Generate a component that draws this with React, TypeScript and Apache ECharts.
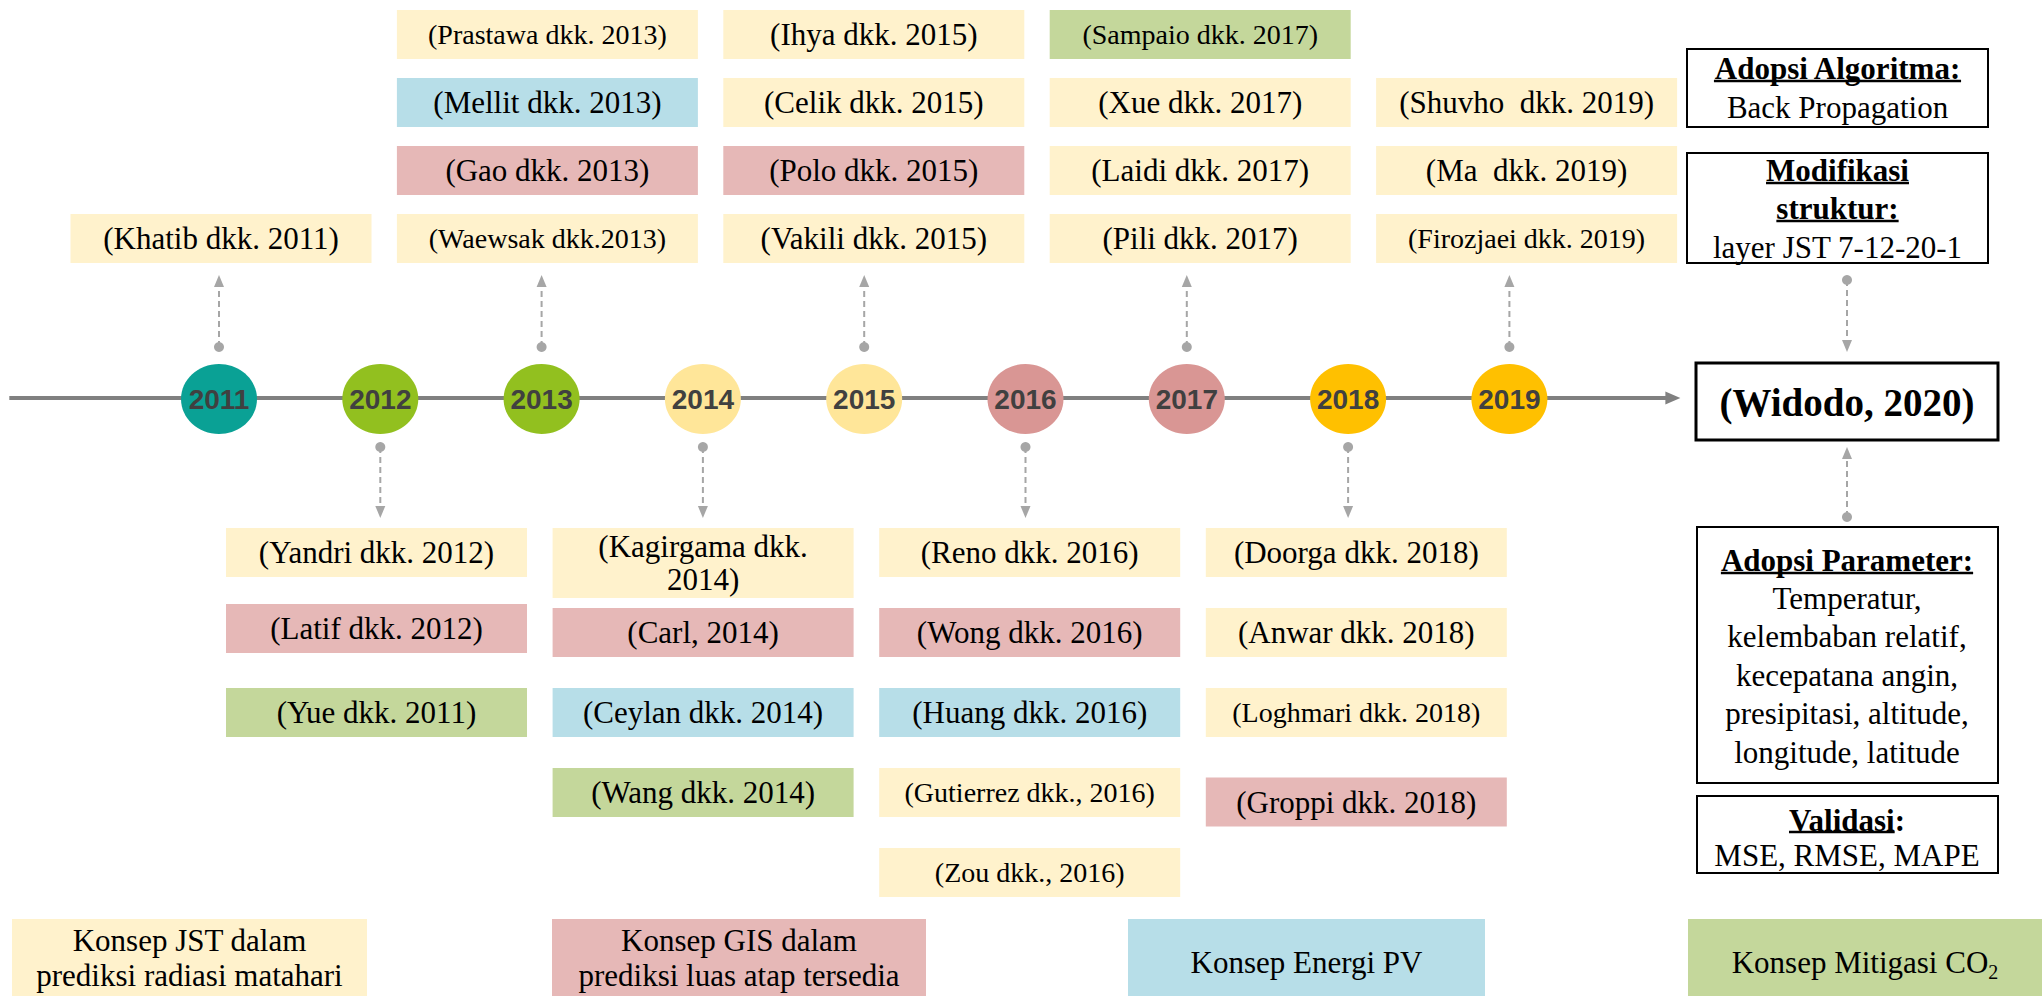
import React, { useEffect, useRef } from 'react';
import * as echarts from 'echarts';

// ---------------- DATA ----------------
const years = [2011, 2012, 2013, 2014, 2015, 2016, 2017, 2018, 2019];
const yearColors = ['#0AA195', '#92C01F', '#92C01F', '#FFE699', '#FFE699', '#D99694', '#D99694', '#FFC000', '#FFC000'];
const timelineStart = 2009.7;
const timelineEnd = 2020.06; // arrow reaches the 2020 work

const categories = ['JST', 'GIS', 'PV', 'CO2'];
const categoryColors = ['#FFF2CC', '#E6B8B7', '#B7DEE8', '#C4D79B'];
const legendLabels = [
  'Konsep JST dalam\nprediksi radiasi matahari',
  'Konsep GIS dalam\nprediksi luas atap tersedia',
  'Konsep Energi PV',
  'Konsep Mitigasi CO{sub|2}',
];

// [label, year, row counted away from the timeline, category]
const papersAbove: [string, number, number, string][] = [
  ['(Khatib dkk. 2011)', 2011, 1, 'JST'],
  ['(Waewsak dkk.2013)', 2013, 1, 'JST'],
  ['(Gao dkk. 2013)', 2013, 2, 'GIS'],
  ['(Mellit dkk. 2013)', 2013, 3, 'PV'],
  ['(Prastawa dkk. 2013)', 2013, 4, 'JST'],
  ['(Vakili dkk. 2015)', 2015, 1, 'JST'],
  ['(Polo dkk. 2015)', 2015, 2, 'GIS'],
  ['(Celik dkk. 2015)', 2015, 3, 'JST'],
  ['(Ihya dkk. 2015)', 2015, 4, 'JST'],
  ['(Pili dkk. 2017)', 2017, 1, 'JST'],
  ['(Laidi dkk. 2017)', 2017, 2, 'JST'],
  ['(Xue dkk. 2017)', 2017, 3, 'JST'],
  ['(Sampaio dkk. 2017)', 2017, 4, 'CO2'],
  ['(Firozjaei dkk. 2019)', 2019, 1, 'JST'],
  ['(Ma  dkk. 2019)', 2019, 2, 'JST'],
  ['(Shuvho  dkk. 2019)', 2019, 3, 'JST'],
];
const papersBelow: [string, number, number, string][] = [
  ['(Yandri dkk. 2012)', 2012, 1, 'JST'],
  ['(Latif dkk. 2012)', 2012, 1.95, 'GIS'],
  ['(Yue dkk. 2011)', 2012, 3, 'CO2'],
  ['(Kagirgama dkk.\n2014)', 2014, 1, 'JST'],
  ['(Carl, 2014)', 2014, 2, 'GIS'],
  ['(Ceylan dkk. 2014)', 2014, 3, 'PV'],
  ['(Wang dkk. 2014)', 2014, 4, 'CO2'],
  ['(Reno dkk. 2016)', 2016, 1, 'JST'],
  ['(Wong dkk. 2016)', 2016, 2, 'GIS'],
  ['(Huang dkk. 2016)', 2016, 3, 'PV'],
  ['(Gutierrez dkk., 2016)', 2016, 4, 'JST'],
  ['(Zou dkk., 2016)', 2016, 5, 'JST'],
  ['(Doorga dkk. 2018)', 2018, 1, 'JST'],
  ['(Anwar dkk. 2018)', 2018, 2, 'JST'],
  ['(Loghmari dkk. 2018)', 2018, 3, 'JST'],
  ['(Groppi dkk. 2018)', 2018, 4.12, 'GIS'],
];
const smallLabels = ['(Prastawa dkk. 2013)', '(Waewsak dkk.2013)', '(Sampaio dkk. 2017)', '(Firozjaei dkk. 2019)',
  '(Loghmari dkk. 2018)', '(Gutierrez dkk., 2016)', '(Zou dkk., 2016)'];

const widodoLabel = '(Widodo, 2020)';
const algoTitle = 'Adopsi Algoritma:';
const algoText = 'Back Propagation';
const structTitle = ['Modifikasi', 'struktur:'];
const structText = 'layer JST 7-12-20-1';
const paramTitle = 'Adopsi Parameter:';
const paramLines = ['Temperatur,', 'kelembaban relatif,', 'kecepatana angin,', 'presipitasi, altitude,', 'longitude, latitude'];
const validTitle = 'Validasi';
const validText = 'MSE, RMSE, MAPE';

// ---------------- STYLE / LAYOUT ----------------
const W = 2042;
const H = 996;
const SERIF = '"Liberation Serif", "Times New Roman", serif';
const SANS = '"Liberation Sans", Arial, sans-serif';
const GREY = '#A6A6A6';
const BOX_W = 301;
const BOX_H = 49;
const BOX_H2 = 70;

function axisRange(x2011: number, step: number) {
  const min = 2011 - x2011 / step;
  return { min, max: min + W / step };
}

const measure = (text: string, font: string) => {
  const ctx = document.createElement('canvas').getContext('2d')!;
  ctx.font = font;
  return ctx.measureText(text).width;
};

function textEl(text: string, x: number, y: number, size: number, bold = false, extra: any = {}) {
  return {
    type: 'text', x, y, silent: true,
    style: {
      text, fill: '#000', fontSize: size, fontFamily: SERIF, fontWeight: bold ? 'bold' : 'normal',
      align: 'center', verticalAlign: 'middle', textAlign: 'center', textVerticalAlign: 'middle', ...extra,
    },
  };
}

function underline(x1: number, x2: number, y: number) {
  return { type: 'line', silent: true, shape: { x1, y1: y, x2, y2: y }, style: { stroke: '#000', lineWidth: 2.5 } };
}

function centeredUnderline(text: string, cx: number, y: number, size: number) {
  const w = measure(text, `bold ${size}px ${SERIF}`);
  return underline(cx - w / 2, cx + w / 2, y);
}

function boxRect(x: number, y: number, w: number, h: number, lw = 2) {
  return { type: 'rect', silent: true, shape: { x, y, width: w, height: h }, style: { fill: '#fff', stroke: '#000', lineWidth: lw } };
}

function dashedConnector(cx: number, dotY: number, tipY: number) {
  const dir = tipY < dotY ? -1 : 1;
  const baseY = tipY - dir * 12;
  return [
    { type: 'line', silent: true, shape: { x1: cx, y1: dotY, x2: cx, y2: baseY }, style: { stroke: GREY, lineWidth: 2, lineDash: [6, 4] } },
    { type: 'circle', silent: true, shape: { cx, cy: dotY, r: 5 }, style: { fill: GREY } },
    { type: 'polygon', silent: true, shape: { points: [[cx, tipY], [cx - 5, baseY], [cx + 5, baseY]] }, style: { fill: GREY } },
  ];
}

function boxSeries(papers: [string, number, number, string][], axisIndex: number) {
  return {
    type: 'custom',
    coordinateSystem: 'cartesian2d',
    xAxisIndex: axisIndex,
    yAxisIndex: axisIndex,
    data: papers.map((p, i) => [p[1], p[2], i]),
    renderItem: (params: any, api: any) => {
      const p = papers[api.value(2)];
      const [cx, cy] = api.coord([api.value(0), api.value(1)]);
      const h = p[0].includes('\n') ? BOX_H2 : BOX_H;
      const top = cy - BOX_H / 2;
      const size = smallLabels.includes(p[0]) ? 28 : 31;
      return {
        type: 'group',
        children: [
          { type: 'rect', shape: { x: cx - BOX_W / 2, y: top, width: BOX_W, height: h }, style: { fill: categoryColors[categories.indexOf(p[3])] } },
          textEl(p[0], cx, top + h / 2, size, false, { lineHeight: 33 }),
        ],
      };
    },
  };
}

function buildOption() {
  const aboveYears = Array.from(new Set(papersAbove.map((p) => p[1])));
  const belowYears = Array.from(new Set(papersBelow.map((p) => p[1])));
  const connectorData = years
    .filter((y) => aboveYears.includes(y) || belowYears.includes(y))
    .map((y) => [y, aboveYears.includes(y) ? 1 : -1]);

  // right column (the 2020 study)
  const RC = 1837.5; // algorithm / structure boxes
  const RC2 = 1847; // widodo / parameter / validation boxes
  const validFont = `bold 31px ${SERIF}`;
  const validFull = measure(validTitle + ':', validFont);
  const validPart = measure(validTitle, validFont);

  const right: any[] = [
    boxRect(1687, 49, 301, 78),
    textEl(algoTitle, RC, 68, 31, true),
    centeredUnderline(algoTitle, RC, 81, 31),
    textEl(algoText, RC, 107, 31),

    boxRect(1687, 153, 301, 110),
    textEl(structTitle[0], RC, 170, 31, true),
    centeredUnderline(structTitle[0], RC, 183, 31),
    textEl(structTitle[1], RC, 208, 31, true),
    centeredUnderline(structTitle[1], RC, 221, 31),
    textEl(structText, RC, 247, 31),

    ...dashedConnector(RC2, 280, 352),

    boxRect(1696, 363, 302, 77, 3),
    textEl(widodoLabel, RC2, 402, 39, true),

    ...dashedConnector(RC2, 517, 447),

    boxRect(1697, 527, 301, 256),
    textEl(paramTitle, RC2, 560, 31, true),
    centeredUnderline(paramTitle, RC2, 573, 31),
    ...paramLines.map((t, i) => textEl(t, RC2, 598 + i * 38.5, 31)),

    boxRect(1697, 796, 301, 77),
    textEl(validTitle + ':', RC2, 820, 31, true),
    underline(RC2 - validFull / 2, RC2 - validFull / 2 + validPart, 832),
    textEl(validText, RC2, 855, 31),
  ];

  // legend of concepts at the bottom
  const legendBoxes = [
    { x: 12, w: 355 },
    { x: 552, w: 374 },
    { x: 1128, w: 357 },
    { x: 1688, w: 354 },
  ];
  const legend: any[] = [];
  legendLabels.forEach((lab, i) => {
    const b = legendBoxes[i];
    legend.push({ type: 'rect', silent: true, shape: { x: b.x, y: 919, width: b.w, height: 85 }, style: { fill: categoryColors[i] } });
    legend.push(textEl(lab, b.x + b.w / 2, lab.includes('\n') ? 958 : 962, 31, false, {
      lineHeight: 35,
      rich: { sub: { fontSize: 20, fontFamily: SERIF, verticalAlign: 'bottom', lineHeight: 40, fill: '#000' } },
    }));
  });

  return {
    animation: false,
    backgroundColor: '#fff',
    grid: [
      { left: 0, top: 0.5, width: W, height: 272 },
      { left: 0, top: 512.5, width: W, height: 400 },
      { left: 0, top: 298, width: W, height: 200 },
    ],
    xAxis: [
      { type: 'value', gridIndex: 0, show: false, ...axisRange(221, 163.2) },
      { type: 'value', gridIndex: 1, show: false, ...axisRange(213.2, 163.3) },
      { type: 'value', gridIndex: 2, show: false, ...axisRange(219, 161.3) },
    ],
    yAxis: [
      { type: 'value', gridIndex: 0, show: false, min: 0.5, max: 4.5 },
      { type: 'value', gridIndex: 1, show: false, min: 0.5, max: 5.5, inverse: true },
      { type: 'value', gridIndex: 2, show: false, min: -1, max: 1 },
    ],
    graphic: { elements: [...right, ...legend] },
    series: [
      {
        type: 'custom',
        coordinateSystem: 'cartesian2d',
        xAxisIndex: 2,
        yAxisIndex: 2,
        data: [[timelineStart, timelineEnd]],
        renderItem: (params: any, api: any) => {
          const p0 = api.coord([api.value(0), 0]);
          const p1 = api.coord([api.value(1), 0]);
          return {
            type: 'group',
            children: [
              { type: 'line', shape: { x1: p0[0], y1: p0[1], x2: p1[0] - 12, y2: p1[1] }, style: { stroke: '#808080', lineWidth: 4 } },
              { type: 'polygon', shape: { points: [[p1[0], p1[1]], [p1[0] - 15, p1[1] - 6.5], [p1[0] - 15, p1[1] + 6.5]] }, style: { fill: '#808080' } },
            ],
          };
        },
      },
      {
        type: 'custom',
        coordinateSystem: 'cartesian2d',
        xAxisIndex: 2,
        yAxisIndex: 2,
        data: connectorData,
        renderItem: (params: any, api: any) => {
          const [cx, cy] = api.coord([api.value(0), 0]);
          const dir = api.value(1);
          const children = dir > 0 ? dashedConnector(cx, cy - 51, cy - 123) : dashedConnector(cx, cy + 49, cy + 120);
          return { type: 'group', children };
        },
      },
      {
        type: 'custom',
        coordinateSystem: 'cartesian2d',
        xAxisIndex: 2,
        yAxisIndex: 2,
        data: years.map((y, i) => [y, 0, i]),
        renderItem: (params: any, api: any) => {
          const i = api.value(2);
          const [cx, cy] = api.coord([api.value(0), api.value(1)]);
          return {
            type: 'group',
            children: [
              { type: 'ellipse', shape: { cx, cy: cy + 1, rx: 38, ry: 35 }, style: { fill: yearColors[i] } },
              {
                type: 'text', x: cx, y: cy + 1,
                style: {
                  text: String(years[i]), fill: '#404040', fontSize: 28, fontWeight: 'bold', fontFamily: SANS,
                  align: 'center', verticalAlign: 'middle', textAlign: 'center', textVerticalAlign: 'middle',
                },
              },
            ],
          };
        },
      },
      boxSeries(papersAbove, 0),
      boxSeries(papersBelow, 1),
    ],
  };
}

export default function App() {
  const ref = useRef<HTMLDivElement>(null);
  useEffect(() => {
    const chart = echarts.init(ref.current!, null, { renderer: 'svg' });
    chart.setOption(buildOption() as any);
    return () => chart.dispose();
  }, []);
  return (
    <div
      ref={ref}
      style={{ position: 'fixed', left: 0, top: 0, width: W, height: H, background: '#fff' }}
    />
  );
}
